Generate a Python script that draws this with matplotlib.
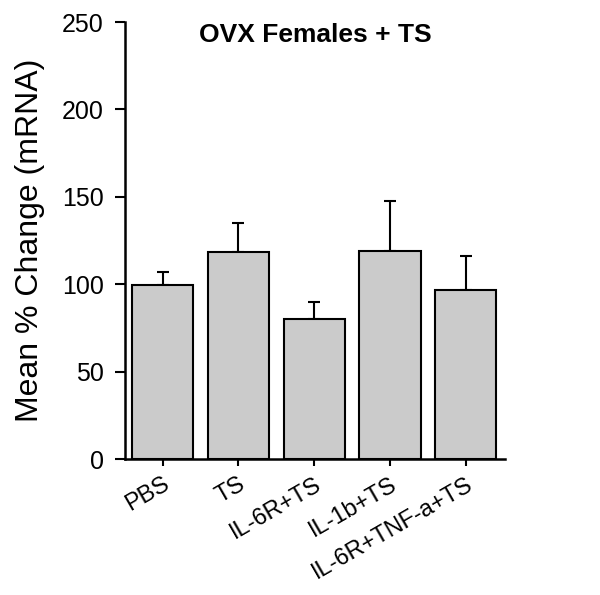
import numpy as np
import matplotlib
matplotlib.use('Agg')
import matplotlib.pyplot as plt

plt.rcParams['font.family'] = ['Liberation Sans', 'DejaVu Sans']

groups = ['PBS', 'TS', 'IL-6R+TS', 'IL-1b+TS', 'IL-6R+TNF-a+TS']
means = [99.5, 118.5, 80, 119, 97]
errs = [7.5, 16.5, 10, 28.5, 19.5]

fig = plt.figure(figsize=(6, 5.95), dpi=100)
ax = fig.add_axes([0.208, 0.228, 0.634, 0.735])

x = np.arange(len(groups))
ax.bar(x, means, width=0.81, color='#cbcbcb', edgecolor='black', linewidth=1.5, zorder=2)
ax.errorbar(x, means, yerr=[np.zeros(len(errs)), errs], fmt='none',
            ecolor='black', elinewidth=1.5, capsize=4.3, capthick=1.5, zorder=1)

ax.set_xlim(-0.5, 4.52)
ax.set_ylim(0, 250)
ax.set_yticks([0, 50, 100, 150, 200, 250])
ax.set_xticks(x)
ax.set_xticklabels(groups, rotation=30, ha='right', rotation_mode='anchor', fontsize=17)
ax.tick_params(axis='y', labelsize=18, length=7, width=1.5, direction='out', pad=8)
ax.tick_params(axis='x', length=5, width=1.5, direction='out', pad=5)

for s in ['top', 'right']:
    ax.spines[s].set_visible(False)
for s in ['left', 'bottom']:
    ax.spines[s].set_linewidth(1.8)

ax.set_ylabel('Mean % Change (mRNA)', fontsize=23, labelpad=12)
ax.set_title('OVX Females + TS', fontsize=19, fontweight='bold', y=0.935)

fig.savefig('out.png', dpi=100)
